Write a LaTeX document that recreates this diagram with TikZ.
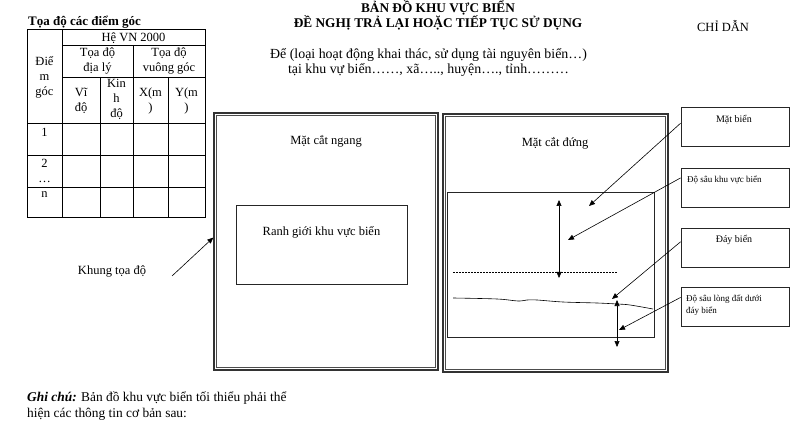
\documentclass[tikz,border=0pt]{standalone}
\usepackage{fontspec}
\setmainfont{Liberation Serif}
\usetikzlibrary{arrows.meta, positioning, calc}

\begin{document}
\begin{tikzpicture}[
    x=1pt, y=-1pt,
    >={Triangle[length=6pt, width=5pt]},
    frame/.style={draw=black!80, line width=1.4pt, inner sep=0pt},
    innerframe/.style={draw=black!70, line width=0.5pt},
    box/.style={draw=black!85, line width=0.6pt, inner sep=0pt},
    legend/.style={
        draw=black!85, line width=0.8pt, minimum width=108pt,
        minimum height=39pt, inner sep=0pt
    },
    txt/.style={font=\fontsize{12.5}{15}\selectfont, align=center, inner sep=0pt, anchor=base},
    heading/.style={font=\fontsize{13}{15}\selectfont\bfseries, align=center, inner sep=0pt, anchor=base},
    lbl/.style={font=\fontsize{10}{12}\selectfont, inner sep=0pt, anchor=base},
    small/.style={font=\fontsize{9}{12}\selectfont, align=left, inner sep=0pt, anchor=base west},
    grid line/.style={line width=0.6pt},
    pointer/.style={->, line width=0.6pt},
]
\useasboundingbox (0,0) rectangle (808,430);

% ── Headings (multi-line nodes sit on their last baseline) ──
\node[heading, font=\fontsize{13.3}{15}\selectfont\bfseries] (title) at (438,28)
    {BẢN ĐỒ KHU VỰC BIỂN\\ĐỀ NGHỊ TRẢ LẠI HOẶC TIẾP TỤC SỬ DỤNG};
\node[txt, font=\fontsize{13.9}{15}\selectfont] (subtitle) at (428.5,74)
    {Để (loại hoạt động khai thác, sử dụng tài nguyên biển…)\\
     tại khu vự biển……, xã….., huyện…., tỉnh………};
\node[txt] (guide) at (723,32) {CHỈ DẪN};

% ── Corner coordinate table ──
\node[heading, anchor=base west] (tabletitle) at (28,26) {Tọa độ các điểm góc};
\draw[grid line] (27,29) rectangle (205,217);
\draw[grid line] (62,29) -- (62,217);
\draw[grid line] (62,45) -- (205,45);
\draw[grid line] (133,45) -- (133,217);
\draw[grid line] (62,77) -- (205,77);
\draw[grid line] (100,77) -- (100,217);
\draw[grid line] (168,77) -- (168,217);
\foreach \y in {123,155,187}
    \draw[grid line] (27,\y) -- (205,\y);

\node[txt] (hevn)   at (133.5,42)  {Hệ VN 2000};
\node[txt] (diem)   at (44.5,96)   {Điể\\m\\góc};
\node[txt] (diali)  at (97.5,72)   {Tọa độ\\địa lý};
\node[txt] (vuong)  at (169,72)    {Tọa độ\\vuông góc};
\node[txt] (vido)   at (81,112)    {Vĩ\\độ};
\node[txt] (kinhdo) at (116.5,118) {Kin\\h\\độ};
\node[txt] (xm)     at (150.5,112) {X(m\\)};
\node[txt] (ym)     at (186.5,112) {Y(m\\)};
\node[txt] (row1)   at (44.5,137)  {1};
\node[txt] (row2)   at (44.5,183)  {2\\…};
\node[txt] (rown)   at (44.5,198)  {n};

% ── Horizontal section ──
\node[frame, minimum width=224pt, minimum height=257pt] (ngang) at (326,241.5) {};
\draw[innerframe] ($(ngang.north west)+(3,3)$) rectangle ($(ngang.south east)+(-3,-3)$);
\node[txt] (ngangtitle) at (326,145) {Mặt cắt ngang};
\node[box, minimum width=171pt, minimum height=79pt] (ranh) at (321.5,244.5) {};
\node[txt] (ranhtext) at (321.5,236) {Ranh giới khu vực biển};

\node[txt] (khung) at (112,274) {Khung tọa độ};
\coordinate (khungtail) at (172,276);
\draw[pointer] (khungtail) -- (ngang.178);

% ── Vertical section ──
\node[frame, minimum width=225pt, minimum height=258pt] (dung) at (555.5,243) {};
\draw[innerframe] ($(dung.north west)+(3,3)$) rectangle ($(dung.south east)+(-3,-3)$);
\node[txt] (dungtitle) at (555,147) {Mặt cắt đứng};
\node[box, minimum width=207pt, minimum height=145pt] (sea) at (550.5,264.5) {};

\coordinate (levelL) at (453,273);
\coordinate (levelR) at (617,273);
\draw[line width=1pt, dash pattern=on 2pt off 1pt] (levelL) -- (levelR);
\draw[line width=0.6pt] plot[smooth, tension=0.6] coordinates
    {(453,298) (497,299) (518,301) (527,300) (537,300) (563,302)
     (597,303) (617,304) (630,305) (653,309)};

\coordinate (deptop) at (559,200);
\coordinate (depbot) at (559,278);
\draw[<->, line width=0.6pt] (deptop) -- (depbot);
\coordinate (soiltop) at (617,300);
\coordinate (soilbot) at (617,347);
\draw[<->, line width=0.6pt] (soiltop) -- (soilbot);

% ── Legend boxes ──
\node[legend] (matbien)  at (735,127)   {};
\node[legend] (dosau)    at (735,187.5) {};
\node[legend] (daybien)  at (735,247.5) {};
\node[legend] (dosaudat) at (735,307)   {};

\node[lbl]   (matbientext)  at (734,123) {Mặt biển};
\node[small] (dosautext)    at (687,183) {Độ sâu khu vực biển};
\node[lbl]   (daybientext)  at (734,243) {Đáy biển};
\node[small] (dosaudattext) at (686,313) {Độ sâu lòng đất dưới\\đáy biển};

% ── Pointers ──
\coordinate (tipmat)   at (589,206);
\coordinate (tipdosau) at (568,240);
\coordinate (tipday)   at (612,299);
\coordinate (tipdat)   at (619,330);
\draw[pointer] (matbien.176)  -- (tipmat);
\draw[pointer] (dosau.170)    -- (tipdosau);
\draw[pointer] (daybien.174)  -- (tipday);
\draw[pointer] (dosaudat.170) -- (tipdat);

% ── Note ──
\node[txt, anchor=base west, align=left, font=\fontsize{13.4}{16}\selectfont] (note) at (27,417)
    {\textbf{\textit{Ghi chú:}} Bản đồ khu vực biển tối thiểu phải thể\\
     hiện các thông tin cơ bản sau:};

\end{tikzpicture}
\end{document}
